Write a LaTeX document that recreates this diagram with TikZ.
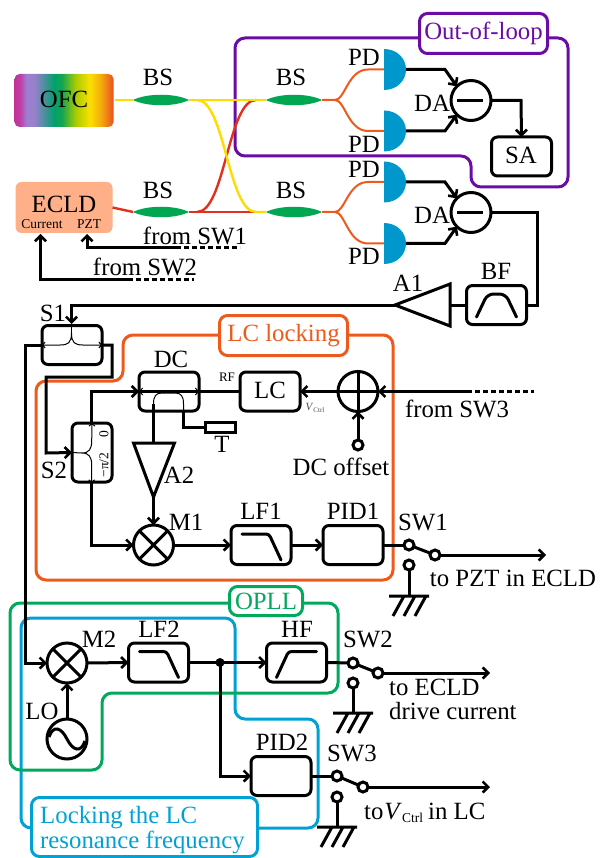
\documentclass[tikz,border=0pt]{standalone}
\usepackage{fontspec}
\setmainfont{Liberation Serif}
\usetikzlibrary{arrows.meta,calc}
\definecolor{cpurple}{HTML}{6A0DA5}
\definecolor{corange}{HTML}{EE5A1C}
\definecolor{cgreen}{HTML}{00A95C}
\definecolor{cblue}{HTML}{00A2D6}
\definecolor{cpd}{HTML}{0098CC}
\definecolor{cyel}{HTML}{FFDC00}
\definecolor{cred}{HTML}{E0301E}
\definecolor{cbs}{HTML}{00A651}
\definecolor{ceclid}{HTML}{FFB088}
\pgfdeclarehorizontalshading{ofcrainbow}{100bp}{
 rgb(0bp)=(0.75,0.2,0.6);
 rgb(25bp)=(0.75,0.2,0.6);
 rgb(28bp)=(0.75,0.25,0.65);
 rgb(31bp)=(0.61,0.5,0.82);
 rgb(35bp)=(0.6,0.5,0.8);
 rgb(45bp)=(0,0.63,0.43);
 rgb(49bp)=(0.08,0.65,0.31);
 rgb(56bp)=(0.67,0.8,0);
 rgb(63bp)=(0.98,0.88,0);
 rgb(69bp)=(0.96,0.65,0.06);
 rgb(75bp)=(0.91,0.31,0.14);
 rgb(100bp)=(0.91,0.31,0.14)}
\tikzset{
 tx/.style={inner sep=0pt,font=\fontsize{24.8}{28}\selectfont},
 txs/.style={inner sep=0pt,font=\fontsize{13.5}{15}\selectfont},
 wire/.style={line width=3pt,black},
 arr/.style={wire,-{Straight Barb[length=5.5pt,width=11pt,line width=2.6pt]}},
 thin arr/.style={line width=1pt,black},
 blockbox/.style={draw=black,line width=3pt,rounded corners=6pt,inner sep=0pt,outer sep=0pt,minimum width=60pt,minimum height=39pt},
 opcirc/.style={circle,draw=black,line width=3pt,inner sep=0pt,outer sep=0pt,minimum size=40pt},
 swc/.style={circle,draw=black,line width=3pt,inner sep=0pt,outer sep=0pt,minimum size=10pt,fill=white},
 lensnode/.style={inner sep=0pt,outer sep=0pt,minimum width=56pt,minimum height=10pt},
 contour/.style={line width=3pt,rounded corners=10pt},
 tag/.style={draw,fill=white,line width=3pt,rounded corners=8pt,inner sep=0pt,outer sep=0pt,font=\fontsize{24.8}{28}\selectfont},
}
\newcommand{\lensat}[1]{\fill[cbs] ($(#1)+(-28,0)$) .. controls ($(#1)+(-14,-7)$) and ($(#1)+(14,-7)$) .. ($(#1)+(28,0)$) .. controls ($(#1)+(14,7)$) and ($(#1)+(-14,7)$) .. cycle;}
\newcommand{\pdat}[1]{\fill[cpd] ($(#1)+(0,-20.5)$) .. controls ($(#1)+(13,-20.5)$) and ($(#1)+(22,-11)$) .. ($(#1)+(22,0)$) .. controls ($(#1)+(22,11)$) and ($(#1)+(13,20.5)$) .. ($(#1)+(0,20.5)$) -- cycle;}
\newcommand{\groundat}[1]{\draw[wire,shift={(#1)}] (-20,0) -- (20,0) (-5,0) -- (-16,20) (6,0) -- (-5,20) (17,0) -- (6,20);}
\newcommand{\lowpass}[1]{\draw[wire,shift={(#1)},rounded corners=3pt,line cap=round] (-19,-11) -- (8,-11) -- (20,15);}
\newcommand{\highpass}[1]{\draw[wire,shift={(#1)},rounded corners=3pt,line cap=round] (-20,15) -- (-8,-11) -- (20,-11);}
\newcommand{\bandpass}[1]{\draw[wire,shift={(#1)},rounded corners=6pt,line cap=round] (-20,12) -- (-9,-11) -- (9,-11) -- (20,12);}
\begin{document}
\begin{tikzpicture}[x=1pt,y=-1pt]
\useasboundingbox (0,0) rectangle (600,858);

% ---- coloured group outlines
\draw[contour,cpurple] (419,38) -- (235,38) -- (235,156) -- (471,156) -- (471,187) -- (568,187) -- (568,38) -- (548,38);
\draw[contour,corange] (219,335) -- (123,335) -- (123,381) -- (36,381) -- (36,580) -- (393,580) -- (393,335) -- (348,335);
\draw[contour,cblue] (31,828) -- (21,828) -- (21,618) -- (235,618) -- (235,719) -- (318,719) -- (318,828) -- (258,828);
\draw[contour,cgreen] (229,603) -- (10,603) -- (10,770) -- (102,770) -- (102,693) -- (338,693) -- (338,603) -- (303,603);
\node[tag,draw=cpurple,text=cpurple,minimum width=128pt,minimum height=40pt] (tagout) at (483.5,33.5) {Out-of-loop};
\node[tag,draw=corange,text=corange,minimum width=128pt,minimum height=40pt] (taglc) at (283.5,335.5) {LC locking};
\node[tag,draw=cgreen,text=cgreen,minimum width=73pt,minimum height=29pt] (tagop) at (266,601) {OPLL};
\node[tag,draw=cblue,minimum width=226pt,minimum height=59pt] (tagres) at (144.5,827) {};
\node[tx,text=cblue,anchor=base west] (tagres1) at (40,823) {Locking the LC};
\node[tx,text=cblue,anchor=base west] (tagres2) at (40,848) {resonance frequency};

% ---- sources
\path[shading=ofcrainbow,rounded corners=5pt] (14.5,74) rectangle (113.5,127);
\node[inner sep=0pt,minimum width=99pt,minimum height=53pt] (ofc) at (64,100.5) {};
\node[tx] (ofctext) at (64,99) {OFC};
\node[fill=ceclid,rounded corners=6pt,inner sep=0pt,outer sep=0pt,minimum width=97pt,minimum height=51pt] (ecld) at (64,207.5) {};
\node[tx] (eclidtext) at (64,204.5) {ECLD};
\node[txs] (eclcur) at (42,224.5) {Current};
\node[txs] (eclpzt) at (89,224.5) {PZT};

% ---- fibre couplers
\node[lensnode] (bs1) at (161,100) {};
\node[lensnode] (bs2) at (294,100) {};
\node[lensnode] (bs3) at (161,212) {};
\node[lensnode] (bs4) at (294,212) {};
\coordinate (pd1) at (384,69.5);
\coordinate (pd2) at (384,131);
\coordinate (pd3) at (384,182);
\coordinate (pd4) at (384,243.5);
\coordinate (fork1) at (335,100);
\coordinate (fork2) at (335,212);

\draw[line width=2.4pt,cred] (ecld.east) -- (bs3.west);
\draw[line width=2.4pt,cred] (bs3.east) -- (bs4.west);
\draw[line width=2.4pt,cred] (197,212) .. controls (225,212) and (228,100) .. (256,100);
\draw[line width=2.4pt,cyel] (197,100) .. controls (225,100) and (228,212) .. (256,212) -- (bs4.west);
\draw[line width=2.4pt,cyel] (115,100) -- (bs1.west);
\draw[line width=2.4pt,cyel] (bs1.east) -- (bs2.west);

\draw[line width=2pt,corange] (bs2.east) -- (fork1) .. controls (345,100) and (348,69.5) .. (368,69.5) -- (pd1);
\draw[line width=2pt,corange] (fork1) .. controls (345,100) and (348,131) .. (368,131) -- (pd2);
\draw[line width=2pt,corange] (bs4.east) -- (fork2) .. controls (345,212) and (348,182) .. (368,182) -- (pd3);
\draw[line width=2pt,corange] (fork2) .. controls (345,212) and (348,243.5) .. (368,243.5) -- (pd4);
\lensat{bs1}\lensat{bs2}\lensat{bs3}\lensat{bs4}
\pdat{pd1}\pdat{pd2}\pdat{pd3}\pdat{pd4}
\node[tx] (bs1t) at (158,77) {BS};
\node[tx] (bs2t) at (291,77) {BS};
\node[tx] (bs3t) at (158,190) {BS};
\node[tx] (bs4t) at (291,190) {BS};
\node[tx] (pd1t) at (364,57) {PD};
\node[tx] (pd2t) at (364,144) {PD};
\node[tx] (pd3t) at (364,169) {PD};
\node[tx] (pd4t) at (364,256) {PD};

% ---- detectors
\node[opcirc] (da1) at (471,100.5) {};
\node[opcirc] (da2) at (471,212.5) {};
\draw[wire] (457,100.5) -- (483,100.5) (457,212.5) -- (483,212.5);
\node[tx] (da1t) at (432,103) {DA};
\node[tx] (da2t) at (432,215) {DA};
\node[blockbox] (sa) at (521.5,156.5) {};
\node[tx] (sat) at (521,155) {SA};
\draw[arr] ($(pd1)+(22,0)$) -- (445,69.5) -- (da1.135);
\draw[arr] ($(pd2)+(22,0)$) -- (445,131) -- (da1.225);
\draw[arr] ($(pd3)+(22,0)$) -- (445,182) -- (da2.135);
\draw[arr] ($(pd4)+(22,0)$) -- (445,243.5) -- (da2.225);
\draw[arr] (da1.east) -- (521,100.5) -- (sa.north);

% ---- BF, A1
\node[blockbox] (bf) at (496.5,305) {};
\node[tx] (bft) at (496,271) {BF};
\bandpass{bf.center}
\draw[wire] (da2.east) -- (537,212.5) -- (537,305) -- (bf.east);
\coordinate (a1tip) at (395,305);
\coordinate (a1base) at (450,305);
\draw[wire,line join=miter] (a1tip) -- (450,284) -- (450,326) -- cycle;
\draw[wire] (bf.west) -- (a1base);
\node[tx] (a1t) at (408,283) {A1};

% ---- splitters
\node[blockbox] (s1) at (72,345) {};
\node[tx] (s1t) at (53,313) {S1};
\node[blockbox,minimum width=40pt,minimum height=59pt] (s2) at (92,452.5) {};
\node[tx] (s2t) at (54,470) {S2};
\draw[arr] (a1tip) -- (71.5,305) -- (71.5,324);
\draw[arr] (s1.east) -- ++(10,0) -- ++(0,32) -- (46,377) -- (46,453) -- (s2.west);
\draw[thin arr,{Straight Barb[length=2.5pt,width=6pt]}-{Straight Barb[length=2.5pt,width=6pt]}] (s1.west) -- (60,345) .. controls (68,345) and (71.5,343) .. (71.5,333) .. controls (71.5,343) and (75,345) .. (83,345) -- (s1.east);
\draw[thin arr,{Straight Barb[length=2.5pt,width=6pt]}-{Straight Barb[length=2.5pt,width=6pt]}] (s2.north) -- (91.7,441) .. controls (91.7,449) and (89,453) .. (82,453) .. controls (89,453) and (91.7,457) .. (91.7,465) -- (91.7,483);
\draw[thin arr] (s2.west) -- (82,453);
\draw[thin arr] (71.5,324) -- (71.5,333);
\node[txs,rotate=90] (s2a) at (104,434) {0};
\node[txs,rotate=90] (s2b) at (104,465) {−π/2};

% ---- LC locking chain
\node[blockbox] (dc) at (169,391.5) {};
\node[tx] (dct) at (171,359) {DC};
\node[blockbox] (lc) at (270,391.5) {};
\node[tx] (lct) at (270,390) {LC};
\node[inner sep=0pt,font=\fontsize{13}{15}\selectfont] (rf) at (227,377) {RF};
\node[inner sep=0pt,text=black!70] (vc) at (315,408) {\fontsize{11}{13}\selectfont\textit{V}\raisebox{-2pt}{\fontsize{7}{8}\selectfont Ctrl}};
\node[opcirc] (add) at (358,391.5) {};
\draw[wire] (add.north) -- (add.south) (add.west) -- (add.east);
\node[swc] (dco) at (358,445) {};
\node[tx] (dcot) at (341,467) {DC offset};
\draw[arr] (dco.north) -- (add.south);
\draw[arr] (add.west) -- (lc.east);
\coordinate (sw3in) at (467,391.5);
\coordinate (sw3end) at (534,391.5);
\draw[arr] (sw3in) -- (add.east);
\draw[wire,dash pattern=on 5pt off 3pt] (sw3in) -- (sw3end);
\node[tx] (fsw3) at (457,409) {from SW3};
\draw[arr] (s2.north) ++(-0.3,0) -- (91.7,391.5) -- (dc.west);
\draw[wire] (dc.west) -- (lc.west);
\draw[thin arr,{Straight Barb[length=3pt,width=7pt]}-{Straight Barb[length=3pt,width=7pt]}] (139,391.5) -- (199,391.5);
\draw[thin arr] (153.5,412) -- (153.5,404) .. controls (153.5,396) and (156,393) .. (162,393) -- (175,393) .. controls (181,393) and (183.5,396) .. (183.5,404) -- (183.5,412);
\node[draw=black,line width=3pt,inner sep=0pt,outer sep=0pt,minimum width=30pt,minimum height=9.5pt] (term) at (220,427.5) {};
\node[tx] (termt) at (222,444) {T};
\draw[wire] (183.5,412) -- (183.5,427.5) -- (term.west);
\coordinate (a2top) at (153.5,443);
\coordinate (a2tip) at (153.5,497);
\draw[wire,line join=miter] (133.5,443) -- (174.5,443) -- (a2tip) -- cycle;
\draw[wire] (153.5,404) -- (a2top);
\node[tx] (a2t) at (179,475) {A2};
\node[opcirc] (m1) at (153.5,545) {};
\draw[wire] (m1.45) -- (m1.225) (m1.135) -- (m1.315);
\node[tx] (m1t) at (186,522) {M1};
\draw[arr] (a2tip) -- (m1.north);
\draw[arr] (s2.south) ++(-0.3,0) -- (91.7,545) -- (m1.west);
\node[blockbox] (lf1) at (261,545) {};
\node[tx] (lf1t) at (261,511) {LF1};
\lowpass{lf1.center}
\draw[arr] (m1.east) -- (lf1.west);
\node[blockbox] (pid1) at (353,545) {};
\node[tx] (pid1t) at (353,511) {PID1};
\draw[arr] (lf1.east) -- (pid1.west);
\node[swc] (sw1a) at (409,545) {};
\node[swc] (sw1b) at (435,555) {};
\node[swc] (sw1c) at (409,565) {};
\coordinate (g1) at (409,596);
\coordinate (out1) at (546,555);
\draw[wire] (pid1.east) -- (sw1a);
\draw[wire] (sw1a) -- (sw1b);
\draw[arr] (sw1b) -- (out1);
\draw[wire] (sw1c) -- (g1);
\groundat{g1}
\node[tx] (sw1t) at (423,522) {SW1};
\node[tx] (sw1l) at (513,578) {to PZT in ECLD};

% ---- OPLL
\node[opcirc] (m2) at (67,663) {};
\draw[wire] (m2.45) -- (m2.225) (m2.135) -- (m2.315);
\node[tx] (m2t) at (99,639) {M2};
\node[opcirc] (lo) at (67,739) {};
\node[tx] (lot) at (42,711) {LO};
\draw[wire,shift={(lo.center)}] (-18,-2) .. controls (-14,-14) and (-6,-12) .. (0,0) .. controls (6,12) and (14,14) .. (18,2);
\draw[arr] (lo.north) -- (m2.south);
\draw[arr] (s1.west) -- (25,345) -- (25,663) -- (m2.west);
\node[blockbox] (lf2) at (158.5,662.5) {};
\node[tx] (lf2t) at (159,629) {LF2};
\lowpass{lf2.center}
\draw[arr] (m2.east) -- (lf2.west);
\node[blockbox] (hf) at (296.5,662.5) {};
\node[tx] (hft) at (297,629) {HF};
\highpass{hf.center}
\draw[arr] (lf2.east) -- (hf.west);
\coordinate (jn) at (220,662.5);
\fill (jn) circle (4.5);
\node[swc] (sw2a) at (353,663) {};
\node[swc] (sw2b) at (378,673) {};
\node[swc] (sw2c) at (353,683) {};
\coordinate (g2) at (353,713);
\coordinate (out2) at (490,673);
\draw[wire] (hf.east) -- (sw2a);
\draw[wire] (sw2a) -- (sw2b);
\draw[arr] (sw2b) -- (out2);
\draw[wire] (sw2c) -- (g2);
\groundat{g2}
\node[tx] (sw2t) at (368,639) {SW2};
\node[tx,anchor=base west] (sw2l1) at (389,695) {to ECLD};
\node[tx,anchor=base west] (sw2l2) at (389,719) {drive current};

% ---- PID2
\node[blockbox] (pid2) at (281,776) {};
\node[tx] (pid2t) at (282,742) {PID2};
\draw[arr] (jn) -- (220,776) -- (pid2.west);
\node[swc] (sw3a) at (337,776) {};
\node[swc] (sw3b) at (363,787) {};
\node[swc] (sw3c) at (337,797) {};
\coordinate (g3) at (337,827);
\coordinate (out3) at (490,787);
\draw[wire] (pid2.east) -- (sw3a);
\draw[wire] (sw3a) -- (sw3b);
\draw[arr] (sw3b) -- (out3);
\draw[wire] (sw3c) -- (g3);
\groundat{g3}
\node[tx] (sw3t) at (352,753) {SW3};
\node[tx,anchor=base west] (sw3l) at (364,819) {to\kern1pt\textit{V}\raisebox{-3pt}{\fontsize{13.5}{15}\selectfont Ctrl}\kern-1pt\ in LC};

% ---- returns into ECLD
\coordinate (ret1) at (176,248);
\coordinate (ret1e) at (240,248);
\coordinate (ret2) at (128,279);
\coordinate (ret2e) at (194,279);
\draw[arr] (ret1) -- (87,248) -- (87,234);
\draw[wire,dash pattern=on 5pt off 3pt] (ret1) -- (ret1e);
\draw[arr] (ret2) -- (40.5,279) -- (40.5,234);
\draw[wire,dash pattern=on 5pt off 3pt] (ret2) -- (ret2e);
\node[tx] (fsw1) at (195,236) {from SW1};
\node[tx] (fsw2) at (145,267) {from SW2};
\end{tikzpicture}
\end{document}
